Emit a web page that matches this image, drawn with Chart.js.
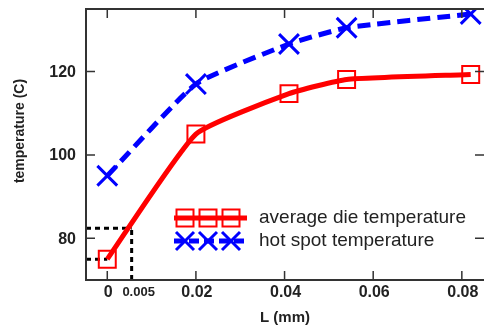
<!DOCTYPE html>
<html>
<head>
<meta charset="utf-8">
<script src="https://cdn.jsdelivr.net/npm/chart.js@4/dist/chart.umd.min.js"></script>
<style>
  html, body { margin: 0; padding: 0; background: #fff; overflow: hidden; }
  #wrap { width: 484px; height: 326px; }
</style>
</head>
<body>
<div id="wrap"><canvas id="chart" width="484" height="326"></canvas></div>
<script>
// data
const lengths = [0, 0.02, 0.041, 0.054, 0.082];
const avgTemp = [75, 105, 114.7, 118.1, 119.3];
const hotTemp = [95, 117, 126.6, 130.5, 133.8];

const xTicks = [0, 0.02, 0.04, 0.06, 0.08];
const xTickLabels = ["0", "0.02", "0.04", "0.06", "0.08"];
const yTicks = [80, 100, 120];
const yTickLabels = ["80", "100", "120"];

// dashed guide near L = 0.005
const guideL = 0.0055;
const guideTemp = 82.4;
const startTemp = 75;

const FONT = "'Liberation Sans', Arial, sans-serif";

const toPts = (xs, ys) => xs.map((x, i) => ({ x: x, y: ys[i] }));

// frame, inward ticks, tick labels, titles, legend
const decor = {
  id: "decor",
  afterDatasetsDraw(chart) {
    const { ctx, chartArea: a, scales: { x, y } } = chart;
    ctx.save();
    ctx.strokeStyle = "#333";
    ctx.lineWidth = 1.5;
    const tl = 9;
    ctx.beginPath();
    xTicks.forEach(v => {
      const px = x.getPixelForValue(v);
      ctx.moveTo(px, a.bottom); ctx.lineTo(px, a.bottom - tl);
      ctx.moveTo(px, a.top); ctx.lineTo(px, a.top + tl);
    });
    yTicks.forEach(v => {
      const py = y.getPixelForValue(v);
      ctx.moveTo(a.left, py); ctx.lineTo(a.left + tl, py);
      ctx.moveTo(a.right, py); ctx.lineTo(a.right - tl, py);
    });
    ctx.stroke();
    ctx.lineWidth = 2;
    ctx.strokeRect(a.left, a.top, a.right - a.left + 4, a.bottom - a.top);

    // tick labels
    ctx.fillStyle = "#222";
    ctx.font = "bold 16px " + FONT;
    ctx.textBaseline = "middle";
    ctx.textAlign = "center";
    xTicks.forEach((v, i) => ctx.fillText(xTickLabels[i], x.getPixelForValue(v) + 1, a.bottom + 13));
    ctx.textAlign = "right";
    yTicks.forEach((v, i) => ctx.fillText(yTickLabels[i], a.left - 10, y.getPixelForValue(v) + 1));

    ctx.font = "bold 13px " + FONT;
    ctx.textAlign = "center";
    ctx.fillText("0.005", x.getPixelForValue(guideL) + 7, a.bottom + 12);

    // axis titles
    ctx.font = "bold 15px " + FONT;
    ctx.fillText("L (mm)", (a.left + a.right) / 2, a.bottom + 38);
    ctx.save();
    ctx.translate(20, 131);
    ctx.rotate(-Math.PI / 2);
    ctx.font = "bold 14px " + FONT;
    ctx.fillText("temperature (C)", 0, 0);
    ctx.restore();

    // legend
    const lx0 = a.left + 88, lx1 = a.left + 161;
    const mx = [a.left + 99, a.left + 122, a.left + 145];
    const r1 = a.top + 209, r2 = a.top + 232;
    ctx.lineWidth = 5;
    ctx.strokeStyle = "#ff0000";
    ctx.beginPath(); ctx.moveTo(lx0, r1); ctx.lineTo(lx1, r1); ctx.stroke();
    ctx.lineWidth = 2;
    mx.forEach(m => ctx.strokeRect(m - 8.5, r1 - 8.5, 17, 17));
    ctx.strokeStyle = "#0000ff";
    ctx.lineWidth = 5;
    ctx.setLineDash([10, 5]);
    ctx.beginPath(); ctx.moveTo(lx0, r2); ctx.lineTo(lx1, r2); ctx.stroke();
    ctx.setLineDash([]);
    ctx.lineWidth = 3;
    mx.forEach(m => {
      ctx.beginPath();
      ctx.moveTo(m - 9, r2 - 9); ctx.lineTo(m + 9, r2 + 9);
      ctx.moveTo(m + 9, r2 - 9); ctx.lineTo(m - 9, r2 + 9);
      ctx.stroke();
    });
    ctx.fillStyle = "#222";
    ctx.font = "19px " + FONT;
    ctx.textAlign = "left";
    ctx.fillText("average die temperature", a.left + 173, r1);
    ctx.fillText("hot spot temperature", a.left + 173, r2);
    ctx.restore();
  }
};

const guideStyle = {
  borderColor: "#000",
  borderWidth: 3,
  borderDash: [5, 4],
  pointRadius: 0,
  tension: 0,
  fill: false,
  order: 3
};

new Chart(document.getElementById("chart"), {
  type: "line",
  data: {
    datasets: [
      {
        label: "average die temperature",
        data: toPts(lengths, avgTemp),
        borderColor: "#ff0000",
        borderWidth: 5,
        tension: 0.15,
        pointStyle: "rect",
        pointRadius: 12,
        pointBorderWidth: 2,
        pointBackgroundColor: "rgba(0,0,0,0)",
        pointBorderColor: "#ff0000",
        order: 1
      },
      {
        label: "hot spot temperature",
        data: toPts(lengths, hotTemp),
        borderColor: "#0000ff",
        borderWidth: 5,
        borderDash: [13, 7],
        tension: 0.15,
        pointStyle: "crossRot",
        pointRadius: 14,
        pointBorderWidth: 3,
        pointBorderColor: "#0000ff",
        order: 2
      },
      Object.assign({ label: "g1", data: [{ x: guideL, y: 70 }, { x: guideL, y: guideTemp }] }, guideStyle),
      Object.assign({ label: "g2", data: [{ x: -0.0048, y: guideTemp }, { x: guideL, y: guideTemp }] }, guideStyle),
      Object.assign({ label: "g3", data: [{ x: -0.0048, y: startTemp }, { x: 0, y: startTemp }] }, guideStyle)
    ]
  },
  options: {
    responsive: false,
    animation: false,
    layout: { autoPadding: false, padding: { top: 9, right: 0, left: 0, bottom: 0 } },
    plugins: { legend: { display: false }, tooltip: { enabled: false } },
    scales: {
      x: {
        type: "linear",
        min: -0.0048,
        max: 0.085,
        afterBuildTicks: s => { s.ticks = xTicks.map(v => ({ value: v })); },
        afterFit: s => { s.height = 46; },
        grid: { display: false },
        border: { display: false },
        ticks: { display: false }
      },
      y: {
        min: 70,
        max: 135,
        afterBuildTicks: s => { s.ticks = yTicks.map(v => ({ value: v })); },
        afterFit: s => { s.width = 86; },
        grid: { display: false },
        border: { display: false },
        ticks: { display: false }
      }
    }
  },
  plugins: [decor]
});
</script>
</body>
</html>
